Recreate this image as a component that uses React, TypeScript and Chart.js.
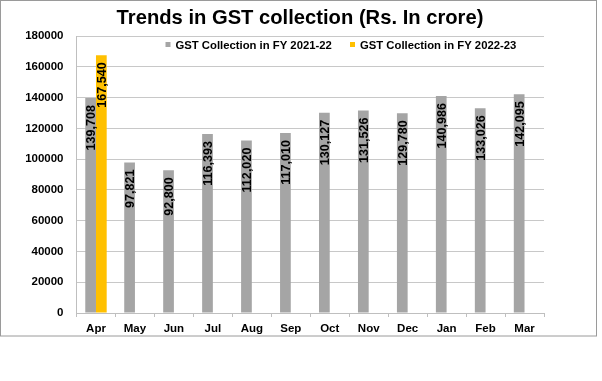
import React, { useEffect, useRef } from "react";
import { Chart, registerables } from "chart.js";

Chart.register(...registerables);

const months = ["Apr", "May", "Jun", "Jul", "Aug", "Sep", "Oct", "Nov", "Dec", "Jan", "Feb", "Mar"];
const fy2122 = [139708, 97821, 92800, 116393, 112020, 117010, 130127, 131526, 129780, 140986, 133026, 142095];
const fy2223 = [167540, null, null, null, null, null, null, null, null, null, null, null];
const seriesNames = ["GST Collection in FY 2021-22", "GST Collection in FY 2022-23"];
const titleText = "Trends in GST collection (Rs. In crore)";
const yTicks = { min: 0, max: 180000, step: 20000 };

const FONT = '"Liberation Sans", Arial, sans-serif';
const GRAY = "#A5A5A5";
const GOLD = "#FFC000";

const framePlugin = {
  id: "frame",
  beforeDraw(chart: any) {
    const ctx = chart.ctx;
    ctx.save();
    ctx.fillStyle = "#ffffff";
    ctx.fillRect(0, 0, chart.width, chart.height);
    ctx.strokeStyle = "#9a9a9a";
    ctx.lineWidth = 1;
    ctx.strokeRect(0.5, 0.5, 596, 335.5);
    ctx.restore();
  },
};

const overlayPlugin = {
  id: "overlay",
  afterDatasetsDraw(chart: any) {
    const ctx = chart.ctx;
    ctx.save();
    // data labels
    ctx.fillStyle = "#000";
    ctx.font = `bold 12.6px ${FONT}`;
    chart.data.datasets.forEach((ds: any, di: number) => {
      const meta = chart.getDatasetMeta(di);
      meta.data.forEach((el: any, i: number) => {
        const v = ds.data[i];
        if (v == null) return;
        ctx.save();
        ctx.translate(el.x, el.y + 7);
        ctx.rotate(-Math.PI / 2);
        ctx.textAlign = "right";
        ctx.textBaseline = "middle";
        ctx.fillText(Number(v).toLocaleString("en-US"), 0, 1);
        ctx.restore();
      });
    });
    // title
    ctx.font = `bold 20.2px ${FONT}`;
    ctx.textAlign = "center";
    ctx.textBaseline = "alphabetic";
    ctx.fillText(titleText, 300, 24);
    // legend
    ctx.font = `bold 11.3px ${FONT}`;
    ctx.textAlign = "left";
    ctx.textBaseline = "middle";
    const items = [
      { x: 165.5, color: GRAY, text: seriesNames[0] },
      { x: 350, color: GOLD, text: seriesNames[1] },
    ];
    items.forEach((it) => {
      ctx.fillStyle = it.color;
      ctx.fillRect(it.x, 42, 5, 5);
      ctx.fillStyle = "#000";
      ctx.fillText(it.text, it.x + 10, 46);
    });
    ctx.restore();
  },
};

export default function App() {
  const ref = useRef<HTMLCanvasElement>(null);
  useEffect(() => {
    document.body.style.margin = "0";
    const chart = new Chart(ref.current as HTMLCanvasElement, {
      type: "bar",
      data: {
        labels: months,
        datasets: [
          { label: seriesNames[0], data: fy2122, backgroundColor: GRAY, categoryPercentage: 0.55, barPercentage: 1 },
          { label: seriesNames[1], data: fy2223 as any, backgroundColor: GOLD, categoryPercentage: 0.55, barPercentage: 1 },
        ],
      },
      options: {
        responsive: false,
        animation: false,
        layout: { padding: { top: 36, right: 58, left: 0, bottom: 0 } },
        plugins: { legend: { display: false }, title: { display: false }, tooltip: { enabled: false } },
        scales: {
          x: {
            afterFit: (s: any) => { s.height = 68; },
            grid: { offset: true, drawOnChartArea: false, drawTicks: true, tickLength: 4, color: "#bfbfbf" },
            border: { color: "#bfbfbf" },
            ticks: { color: "#000", font: { family: FONT, size: 11.5, weight: "bold" }, padding: 5 },
          },
          y: {
            min: yTicks.min,
            max: yTicks.max,
            afterFit: (s: any) => { s.width = 76.5; },
            grid: { color: "#c8c8c8", drawTicks: false },
            border: { color: "#bfbfbf" },
            ticks: {
              stepSize: yTicks.step,
              color: "#000",
              padding: 13,
              font: { family: FONT, size: 11.5, weight: "bold" },
              callback: (v: any) => String(v),
            },
          },
        },
      },
      plugins: [framePlugin, overlayPlugin],
    });
    return () => chart.destroy();
  }, []);
  return (
    <div style={{ width: 602, height: 381 }}>
      <canvas ref={ref} width={602} height={381} />
    </div>
  );
}
